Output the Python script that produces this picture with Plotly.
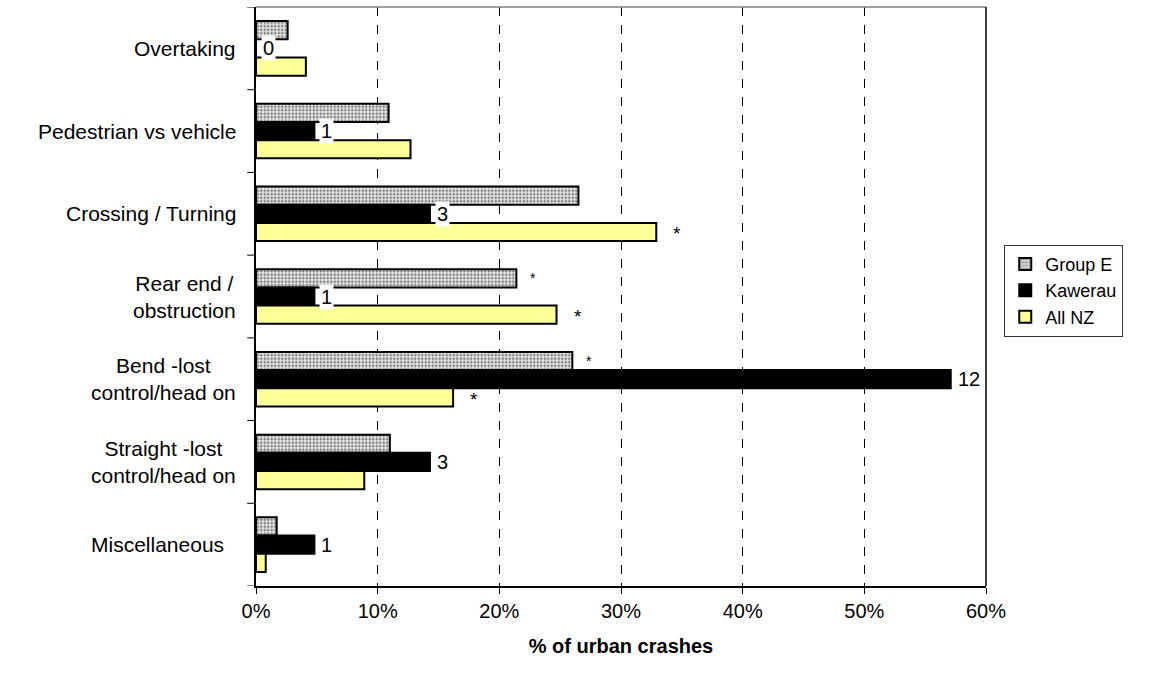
import plotly.graph_objects as go

categories = ["Overtaking", "Pedestrian vs vehicle", "Crossing / Turning",
              "Rear end /<br>obstruction", "Bend -lost<br>control/head on",
              "Straight -lost<br>control/head on", "Miscellaneous\u00a0\u00a0"]
group_e = [2.6, 10.9, 26.5, 21.4, 26.0, 11.0, 1.7]
kawerau = [0, 4.8, 14.3, 4.8, 57.1, 14.3, 4.8]
kawerau_counts = ["0", "1", "3", "1", "12", "3", "1"]
all_nz = [4.1, 12.7, 32.9, 24.7, 16.2, 8.9, 0.8]
group_e_sig = ["", "", "", "*", "*", "", ""]
all_nz_sig = ["", "", "*", "*", "*", "", ""]

FONT = "Arial, Liberation Sans, sans-serif"
idx = list(range(len(categories)))

fig = go.Figure()
fig.add_trace(go.Bar(
    y=idx, x=group_e, orientation="h", name="Group E",
    marker=dict(color="white", line=dict(color="black", width=2),
                pattern=dict(shape=".", fgcolor="#111111", bgcolor="#e6e6e6",
                             size=3.5, solidity=0.4)),
))
fig.add_trace(go.Bar(
    y=idx, x=kawerau, orientation="h", name="Kawerau",
    marker=dict(color="black", line=dict(color="black", width=2)),
))
fig.add_trace(go.Bar(
    y=idx, x=all_nz, orientation="h", name="All NZ",
    marker=dict(color="#ffff99", line=dict(color="black", width=2)),
))

annotations = []
off = 0.22
for i in idx:
    # category labels, lines centred like the original
    annotations.append(dict(xref="paper", x=0, y=i, text=categories[i], showarrow=False,
                            xanchor="right", align="center", xshift=-18,
                            font=dict(family=FONT, size=21, color="black")))
    annotations.append(dict(x=kawerau[i], y=i, text=kawerau_counts[i], showarrow=False,
                            xanchor="left", xshift=5, bgcolor="white",
                            font=dict(family=FONT, size=20, color="black")))
    if group_e_sig[i]:
        annotations.append(dict(x=group_e[i], y=i - off, text=group_e_sig[i], showarrow=False,
                                xanchor="center", xshift=17,
                                font=dict(family=FONT, size=14, color="black")))
    if all_nz_sig[i]:
        annotations.append(dict(x=all_nz[i], y=i + off, text=all_nz_sig[i], showarrow=False,
                                xanchor="center", xshift=21, yshift=-2,
                                font=dict(family=FONT, size=19, color="black")))

fig.update_layout(
    width=1170, height=680,
    margin=dict(l=256, r=184, t=7, b=94),
    paper_bgcolor="white", plot_bgcolor="white",
    barmode="group", bargap=0.34, bargroupgap=0,
    font=dict(family=FONT, size=20, color="black"),
    showlegend=True,
    legend=dict(x=1.025, y=0.51, xanchor="left", yanchor="middle",
                bordercolor="#333333", borderwidth=1, bgcolor="white",
                font=dict(family=FONT, size=18), tracegroupgap=0,
                itemwidth=30),
    annotations=annotations,
    shapes=[
        dict(type="line", xref="paper", yref="paper", x0=0, x1=1, y0=1, y1=1,
             line=dict(color="#808080", width=1.5)),
        dict(type="line", xref="paper", yref="paper", x0=1, x1=1, y0=0, y1=1,
             line=dict(color="black", width=1.5)),
    ],
)
fig.update_xaxes(
    range=[0, 60], dtick=10, ticksuffix="%",
    showgrid=True, gridcolor="black", griddash="dash", gridwidth=1,
    showline=True, linecolor="black", linewidth=1.5,
    ticks="outside", ticklen=6, tickcolor="black",
    tickfont=dict(size=20),
    zeroline=False,
    title=dict(text="<b>% of urban crashes</b>", font=dict(family=FONT, size=20), standoff=18),
)
fig.update_yaxes(
    range=[6.5, -0.5], showticklabels=False,
    showgrid=False, showline=True, linecolor="black", linewidth=1.5,
    ticks="", zeroline=False,
)
# boundary ticks on category axis
for b in range(len(categories) + 1):
    fig.add_shape(type="line", xref="paper", yref="y", x0=-0.012, x1=0,
                  y0=b - 0.5, y1=b - 0.5, line=dict(color="black", width=1))

fig.write_html("out.html", config={"displayModeBar": False},
               post_script="document.body.style.margin='0px';")
